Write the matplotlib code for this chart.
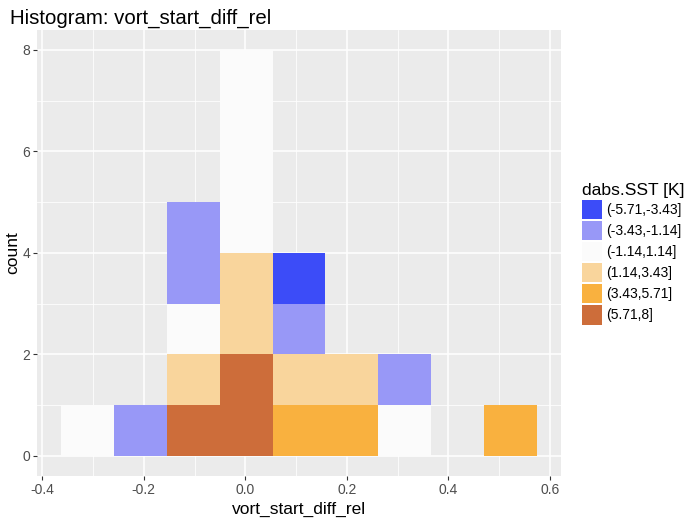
import numpy as np
from matplotlib import pyplot as plt
from matplotlib.patches import Patch

plt.rcParams['font.family'] = ['Liberation Sans', 'DejaVu Sans']

# histogram bins (x edges) and counts per SST class
bin_edges = [-0.3636, -0.2593, -0.1550, -0.0507, 0.0536, 0.1579, 0.2622, 0.3665, 0.4708, 0.5751]
classes = ['(-5.71,-3.43]', '(-3.43,-1.14]', '(-1.14,1.14]', '(1.14,3.43]', '(3.43,5.71]', '(5.71,8]']
counts = {
    '(-5.71,-3.43]': [0, 0, 0, 0, 1, 0, 0, 0, 0],
    '(-3.43,-1.14]': [0, 1, 2, 0, 1, 0, 1, 0, 0],
    '(-1.14,1.14]':  [1, 0, 1, 4, 0, 0, 1, 0, 0],
    '(1.14,3.43]':   [0, 0, 1, 2, 1, 1, 0, 0, 0],
    '(3.43,5.71]':   [0, 0, 0, 0, 1, 1, 0, 0, 1],
    '(5.71,8]':      [0, 0, 1, 2, 0, 0, 0, 0, 0],
}
colors = ['#3c4cf8', '#9898f7', '#fbfbfb', '#f9d59c', '#f9b13f', '#cd6d3a']

fig = plt.figure(figsize=(6.85, 5.19), dpi=100)
ax = fig.add_axes([0.054, 0.0823, 0.765, 0.8605])
ax.set_facecolor('#EBEBEB')

edges = np.array(bin_edges)
widths = np.diff(edges)
bottom = np.zeros(len(widths))
# ggplot stacks the first level on top, so draw from the last level up
for cls, col in reversed(list(zip(classes, colors))):
    vals = np.array(counts[cls], dtype=float)
    ax.bar(edges[:-1], vals, width=widths, bottom=bottom, align='edge',
           color=col, edgecolor='none', zorder=3)
    bottom += vals

# ggplot-style 5% expansion
span = edges[-1] - edges[0]
ax.set_xlim(edges[0] - 0.05 * span, edges[-1] + 0.05 * span)
ax.set_ylim(-0.4, 8.4)
ax.set_xticks([-0.4, -0.2, 0.0, 0.2, 0.4, 0.6])
ax.set_xticklabels(['-0.4', '-0.2', '0.0', '0.2', '0.4', '0.6'])
ax.set_xticks([-0.3, -0.1, 0.1, 0.3, 0.5], minor=True)
ax.set_yticks([0, 2, 4, 6, 8])
ax.set_yticks([1, 3, 5, 7], minor=True)
ax.grid(which='major', color='white', lw=1.1, zorder=1)
ax.grid(which='minor', color='white', lw=0.55, zorder=1)
ax.tick_params(which='major', length=3, color='#333333', labelcolor='#4D4D4D', labelsize=10, pad=2)
ax.tick_params(which='minor', length=0)
for s in ax.spines.values():
    s.set_visible(False)

ax.set_xlabel('vort_start_diff_rel', fontsize=12.5, labelpad=3)
ax.set_ylabel('count', fontsize=12.5, labelpad=1.5)
fig.text(0.015, 0.965, 'Histogram: vort_start_diff_rel', fontsize=14.7, va='center', ha='left')

handles = [Patch(facecolor=c, edgecolor='none') for c in colors]
leg = fig.legend(handles, classes, title='dabs.SST [K]', loc='upper left',
                 bbox_to_anchor=(0.849, 0.648), frameon=False, fontsize=10,
                 title_fontsize=12.6, handlelength=1.45, handleheight=1.75,
                 handletextpad=0.35, labelspacing=0.14, borderaxespad=0,
                 borderpad=0)
leg._legend_box.align = 'left'

fig.savefig('out.png', dpi=100)
